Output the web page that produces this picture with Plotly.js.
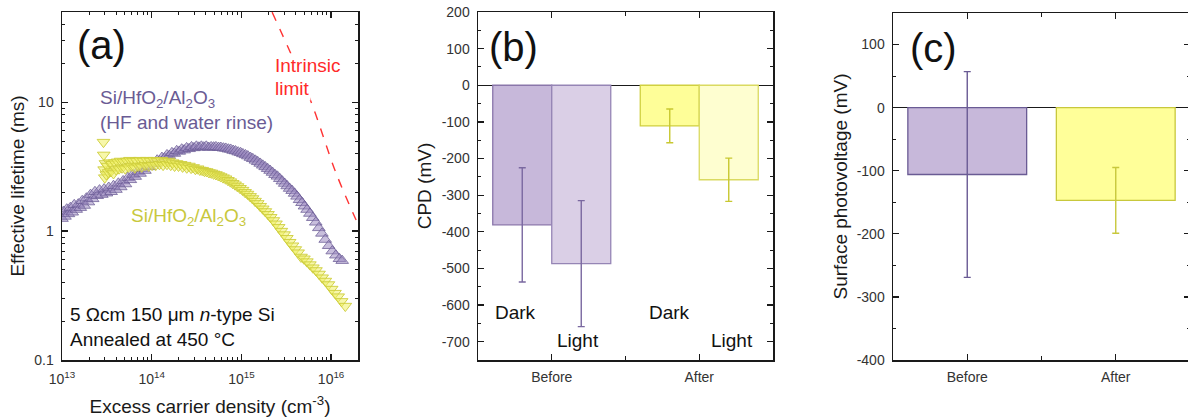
<!DOCTYPE html>
<html>
<head>
<meta charset="utf-8">
<script src="https://cdn.plot.ly/plotly-3.0.1.min.js"></script>
<style>
html,body{margin:0;padding:0;overflow:hidden;background:#fff;}
#chart{width:1192px;height:418px;}
</style>
</head>
<body>
<div id="chart"></div>
<script>
// ---------- Panel (a): lifetime vs excess carrier density ----------
const purpleX = [1.0e13,1.04e13,1.08e13,1.13e13,1.18e13,1.24e13,1.3e13,1.37e13,1.44e13,1.52e13,1.6e13,1.68e13,1.77e13,1.87e13,1.97e13,2.08e13,2.2e13,2.33e13,2.47e13,2.62e13,2.78e13,2.95e13,3.13e13,3.32e13,3.53e13,3.75e13,3.99e13,4.25e13,4.52e13,4.8e13,5.1e13,5.43e13,5.78e13,6.15e13,6.55e13,6.97e13,7.42e13,7.9e13,8.4e13,8.95e13,9.5e13,1.01e14,1.08e14,1.15e14,1.22e14,1.3e14,1.39e14,1.48e14,1.57e14,1.68e14,1.79e14,1.9e14,2.03e14,2.16e14,2.3e14,2.45e14,2.61e14,2.78e14,2.96e14,3.15e14,3.36e14,3.58e14,3.81e14,4.06e14,4.32e14,4.6e14,4.9e14,5.2e14,5.56e14,5.9e14,6.3e14,6.7e14,7.15e14,7.6e14,8.1e14,8.6e14,9.2e14,9.8e14,1.04e15,1.11e15,1.18e15,1.26e15,1.34e15,1.43e15,1.52e15,1.62e15,1.73e15,1.84e15,1.96e15,2.09e15,2.22e15,2.37e15,2.52e15,2.68e15,2.86e15,3.04e15,3.24e15,3.45e15,3.68e15,3.92e15,4.17e15,4.45e15,4.74e15,5.05e15,5.4e15,5.8e15,6.25e15,6.75e15,7.3e15,7.9e15,8.6e15,9.4e15,1.03e16,1.13e16,1.24e16,1.33e16];
const purpleTau = [1.25,1.42,1.3,1.48,1.36,1.52,1.4,1.6,1.47,1.62,1.52,1.72,1.58,1.8,1.68,1.92,1.78,2.02,1.88,2.08,1.92,2.12,1.97,2.18,2.02,2.25,2.1,2.35,2.2,2.45,2.32,2.6,2.5,2.75,2.65,2.9,2.8,3.05,2.95,3.22,3.15,3.4,3.32,3.55,3.5,3.72,3.68,3.9,3.85,4.05,4.0,4.2,4.15,4.32,4.25,4.42,4.35,4.5,4.42,4.55,4.47,4.55,4.48,4.55,4.45,4.5,4.48,4.5,4.45,4.45,4.4,4.38,4.32,4.3,4.22,4.18,4.1,4.05,3.97,3.9,3.82,3.72,3.64,3.54,3.45,3.35,3.24,3.15,3.05,2.95,2.85,2.74,2.66,2.55,2.44,2.34,2.24,2.14,2.06,1.96,1.86,1.75,1.66,1.56,1.47,1.37,1.27,1.17,1.06,0.96,0.86,0.77,0.7,0.65,0.61,0.59];

const yellowX = [2.9e13,2.92e13,2.95e13,3.0e13,3.05e13,3.12e13,3.2e13,3.3e13,3.4e13,3.5e13,3.62e13,3.75e13,3.88e13,4.02e13,4.17e13,4.33e13,4.5e13,4.68e13,4.87e13,5.07e13,5.28e13,5.5e13,5.73e13,5.97e13,6.22e13,6.5e13,6.78e13,7.08e13,7.4e13,7.73e13,8.08e13,8.45e13,8.84e13,9.25e13,9.68e13,1.01e14,1.06e14,1.11e14,1.16e14,1.22e14,1.28e14,1.34e14,1.41e14,1.48e14,1.55e14,1.63e14,1.71e14,1.8e14,1.89e14,1.99e14,2.1e14,2.21e14,2.33e14,2.46e14,2.6e14,2.75e14,2.9e14,3.07e14,3.25e14,3.44e14,3.65e14,3.87e14,4.1e14,4.35e14,4.62e14,4.9e14,5.2e14,5.53e14,5.88e14,6.25e14,6.65e14,7.08e14,7.53e14,8.0e14,8.5e14,9.05e14,9.65e14,1.03e15,1.1e15,1.17e15,1.25e15,1.33e15,1.42e15,1.52e15,1.62e15,1.73e15,1.85e15,1.98e15,2.12e15,2.27e15,2.43e15,2.6e15,2.79e15,2.99e15,3.21e15,3.45e15,3.71e15,3.99e15,4.29e15,4.62e15,4.98e15,5.37e15,5.8e15,6.27e15,6.78e15,7.34e15,7.95e15,8.62e15,9.35e15,1.015e16,1.105e16,1.2e16,1.31e16,1.44e16];
const yellowTau = [4.9,3.9,3.0,2.6,3.35,2.75,3.2,2.85,3.4,2.9,3.3,2.8,3.4,3.0,3.45,3.05,3.5,3.1,3.45,3.05,3.5,3.15,3.55,3.2,3.5,3.1,3.5,3.2,3.55,3.15,3.5,3.25,3.55,3.2,3.5,3.25,3.55,3.25,3.5,3.3,3.55,3.25,3.45,3.3,3.5,3.25,3.4,3.2,3.35,3.2,3.3,3.15,3.25,3.1,3.2,3.08,3.12,3.02,3.05,2.98,2.97,2.92,2.9,2.85,2.83,2.78,2.75,2.7,2.65,2.6,2.55,2.48,2.42,2.35,2.29,2.22,2.15,2.08,2.0,1.94,1.86,1.79,1.71,1.64,1.56,1.49,1.42,1.35,1.28,1.21,1.14,1.07,1.0,0.94,0.88,0.82,0.77,0.72,0.68,0.63,0.61,0.58,0.55,0.52,0.495,0.465,0.435,0.41,0.385,0.355,0.33,0.31,0.285,0.262];

const intrinsicX = [2.2e15, 5.7e15, 1.14e16, 1.9e16];
const intrinsicTau = [50, 11, 2.8, 1.22];

const decadeVals = [1e13, 1e14, 1e15, 1e16];
const decadeText = ['10<sup>13</sup>','10<sup>14</sup>','10<sup>15</sup>','10<sup>16</sup>'];
const lifeVals = [0.1, 1, 10];
const lifeText = ['0.1', '1', '10'];

// ---------- Panel (b): CPD ----------
const groups = ['Before', 'After'];
const cpdDark = [-381, -111];
const cpdDarkErr = [156, 46];
const cpdLight = [-487, -258];
const cpdLightErr = [172, 59];
const cpdTickVals = [200,100,0,-100,-200,-300,-400,-500,-600,-700];
const cpdTickText = ['200','100','0','-100','-200','-300','-400','-500','-600','-700'];

// ---------- Panel (c): Surface photovoltage ----------
const spv = [-106, -147];
const spvErr = [163, 52];
const spvTickVals = [100,0,-100,-200,-300,-400];
const spvTickText = ['100','0','-100','-200','-300','-400'];

// ---------- styling ----------
const FONT = '"Liberation Sans", Arial, sans-serif';
const W = 1192, H = 418;
const PURPLE = '#6a5b94';
const YELLOWTXT = '#c8c83c';
const fx = p => p / W;
const fy = p => 1 - p / H;

function minorLog(lo, hi) {
  const out = [];
  for (let e = lo; e <= hi; e++) for (let m = 2; m <= 9; m++) out.push(m * Math.pow(10, e));
  return out;
}

const axBase = {
  showline: true, linecolor: '#1a1a1a', linewidth: 1.5, mirror: 'ticks',
  ticks: 'inside', ticklen: 6, tickwidth: 1.3, tickcolor: '#1a1a1a',
  showgrid: false, zeroline: false,
  tickfont: {family: FONT, size: 14, color: '#333'},
  ticklabelstandoff: 4
};

const traces = [
  {x: purpleX, y: purpleTau, type: 'scatter', mode: 'markers', xaxis: 'x', yaxis: 'y',
   marker: {symbol: 'triangle-up', size: 11, color: 'rgba(155,136,192,0.55)', line: {color: 'rgba(106,91,148,0.75)', width: 1}}},
  {x: yellowX, y: yellowTau, type: 'scatter', mode: 'markers', xaxis: 'x', yaxis: 'y',
   marker: {symbol: 'triangle-down', size: 11, color: 'rgba(240,240,100,0.55)', line: {color: 'rgba(205,205,60,0.9)', width: 1}}},
  {x: intrinsicX, y: intrinsicTau, type: 'scatter', mode: 'lines', xaxis: 'x', yaxis: 'y',
   line: {color: '#ff3333', width: 1.4, dash: 'dash', shape: 'spline'}},

  // (b)
  {x: [0], y: [cpdDark[0]], type: 'bar', xaxis: 'x2', yaxis: 'y2', offset: -0.4, width: 0.4,
   marker: {color: '#c7b8da', line: {color: '#8a76aa', width: 1.3}},
   error_y: {type: 'data', array: [cpdDarkErr[0]], color: '#7a68a0', thickness: 1.4, width: 3.5}},
  {x: [0], y: [cpdLight[0]], type: 'bar', xaxis: 'x2', yaxis: 'y2', offset: 0, width: 0.4,
   marker: {color: '#dacfe6', line: {color: '#9585b5', width: 1.3}},
   error_y: {type: 'data', array: [cpdLightErr[0]], color: '#7a68a0', thickness: 1.4, width: 3.5}},
  {x: [1], y: [cpdDark[1]], type: 'bar', xaxis: 'x2', yaxis: 'y2', offset: -0.4, width: 0.4,
   marker: {color: '#fefe98', line: {color: '#d0d040', width: 1.3}},
   error_y: {type: 'data', array: [cpdDarkErr[1]], color: '#c8c830', thickness: 1.4, width: 3.5}},
  {x: [1], y: [cpdLight[1]], type: 'bar', xaxis: 'x2', yaxis: 'y2', offset: 0, width: 0.4,
   marker: {color: '#fefed0', line: {color: '#dada60', width: 1.3}},
   error_y: {type: 'data', array: [cpdLightErr[1]], color: '#c8c830', thickness: 1.4, width: 3.5}},

  // (c)
  {x: [0], y: [spv[0]], type: 'bar', xaxis: 'x3', yaxis: 'y3', width: 0.8,
   marker: {color: '#c7b8da', line: {color: '#6a5b94', width: 1.3}},
   error_y: {type: 'data', array: [spvErr[0]], color: '#6a5b94', thickness: 1.4, width: 3.5}},
  {x: [1], y: [spv[1]], type: 'bar', xaxis: 'x3', yaxis: 'y3', width: 0.8,
   marker: {color: '#ffff99', line: {color: '#c8c83c', width: 1.3}},
   error_y: {type: 'data', array: [spvErr[1]], color: '#c8c83c', thickness: 1.4, width: 3.5}}
];

const titleFont = {family: FONT, size: 19, color: '#1a1a1a'};

function ann(xr, yr, x, y, text, size, color, xanchor, bg) {
  const a = {xref: xr, yref: yr, x: x, y: y, text: text, showarrow: false,
          xanchor: xanchor || 'center', yanchor: 'middle', align: 'left',
          font: {family: FONT, size: size, color: color}};
  if (bg) { a.bgcolor = bg; }
  return a;
}

const layout = {
  width: W, height: H,
  margin: {l: 0, r: 0, t: 0, b: 0},
  paper_bgcolor: '#fff', plot_bgcolor: '#fff',
  showlegend: false,
  barmode: 'overlay',
  font: {family: FONT},
  xaxis: Object.assign({}, axBase, {
    type: 'log', range: [13, 16.3], domain: [fx(62), fx(358)], anchor: 'y',
    tickmode: 'array', tickvals: decadeVals, ticktext: decadeText,
    minor: {tickmode: 'array', tickvals: minorLog(13, 16), ticks: 'inside', ticklen: 3, tickwidth: 1, tickcolor: '#1a1a1a', showgrid: false},
    ticklabelstandoff: 6,
    title: {text: 'Excess carrier density (cm<sup>-3</sup>)', font: titleFont, standoff: 13}
  }),
  yaxis: Object.assign({}, axBase, {
    type: 'log', range: [-1, 1.7], domain: [fy(360), fy(12)], anchor: 'x',
    tickmode: 'array', tickvals: lifeVals, ticktext: lifeText,
    minor: {tickmode: 'array', tickvals: minorLog(-1, 1), ticks: 'inside', ticklen: 3, tickwidth: 1, tickcolor: '#1a1a1a', showgrid: false},
    title: {text: 'Effective lifetime (ms)', font: titleFont, standoff: 4}
  }),
  xaxis2: Object.assign({}, axBase, {
    range: [-0.5, 1.5], domain: [fx(478), fx(773)], anchor: 'y2',
    tickmode: 'array', tickvals: [0, 1], ticktext: groups,
    minor: {tickmode: 'array', tickvals: [0.5], ticks: 'inside', ticklen: 4, tickwidth: 1.2, tickcolor: '#1a1a1a'}
  }),
  yaxis2: Object.assign({}, axBase, {
    range: [-750, 200], domain: [fy(360), fy(12)], anchor: 'x2',
    tickmode: 'array', tickvals: cpdTickVals, ticktext: cpdTickText,
    minor: {dtick: 50, ticks: 'inside', ticklen: 3, tickwidth: 1, tickcolor: '#1a1a1a', showgrid: false},
    zeroline: true, zerolinecolor: '#1a1a1a', zerolinewidth: 1.5,
    title: {text: 'CPD (mV)', font: titleFont, standoff: 5}
  }),
  xaxis3: Object.assign({}, axBase, {
    range: [-0.5, 1.5], domain: [fx(893), fx(1190)], anchor: 'y3',
    tickmode: 'array', tickvals: [0, 1], ticktext: groups,
    minor: {tickmode: 'array', tickvals: [0.5, 1.5], ticks: 'inside', ticklen: 4, tickwidth: 1.2, tickcolor: '#1a1a1a'}
  }),
  yaxis3: Object.assign({}, axBase, {
    range: [-400, 150], domain: [fy(360), fy(13)], anchor: 'x3',
    tickmode: 'array', tickvals: spvTickVals, ticktext: spvTickText,
    minor: {dtick: 50, ticks: 'inside', ticklen: 3, tickwidth: 1, tickcolor: '#1a1a1a', showgrid: false},
    zeroline: true, zerolinecolor: '#1a1a1a', zerolinewidth: 1.5,
    title: {text: 'Surface photovoltage (mV)', font: titleFont, standoff: 4}
  }),
  annotations: [
    ann('x domain', 'y domain', 0.135, 0.905, '(a)', 40, '#111'),
    ann('x domain', 'y domain', 0.828, 0.845, 'Intrinsic', 19, '#ff2a2a', 'center', '#ffffff'),
    ann('x domain', 'y domain', 0.713, 0.779, 'limit', 19, '#ff2a2a', 'left', '#ffffff'),
    ann('x domain', 'y domain', 0.122, 0.717, 'Si/HfO<sub>2</sub>/Al<sub>2</sub>O<sub>3</sub><br>(HF and water rinse)', 19, PURPLE, 'left'),
    ann('x domain', 'y domain', 0.226, 0.411, 'Si/HfO<sub>2</sub>/Al<sub>2</sub>O<sub>3</sub>', 19, YELLOWTXT, 'left'),
    ann('x domain', 'y domain', 0.02, 0.096, '5 \u03A9cm 150 \u03BCm <i>n</i>-type Si<br>Annealed at 450 \u00B0C', 19, '#111', 'left'),

    ann('x2 domain', 'y2 domain', 0.119, 0.899, '(b)', 40, '#111'),
    ann('x2', 'y2', -0.249, -621, 'Dark', 19, '#111'),
    ann('x2', 'y2', 0.178, -698, 'Light', 19, '#111'),
    ann('x2', 'y2', 0.80, -621, 'Dark', 19, '#111'),
    ann('x2', 'y2', 1.22, -698, 'Light', 19, '#111'),

    ann('x3 domain', 'y3 domain', 0.135, 0.899, '(c)', 40, '#111')
  ]
};

Plotly.newPlot('chart', traces, layout, {displayModeBar: false, staticPlot: true});
</script>
</body>
</html>
